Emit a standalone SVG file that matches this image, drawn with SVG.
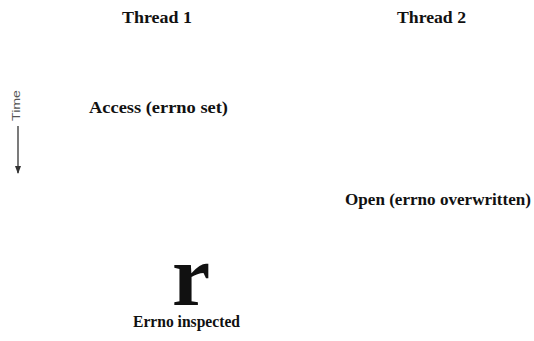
<svg xmlns="http://www.w3.org/2000/svg" width="534" height="341" viewBox="0 0 534 341">
<defs>
<style>
.t{font-family:"Liberation Serif","Times New Roman",serif;font-weight:bold;font-size:17px;fill:#111}
.s{font-family:"Liberation Sans",Arial,sans-serif;font-size:11px;fill:#555}
</style>
<marker id="ah" markerWidth="8" markerHeight="6" refX="7" refY="3" orient="auto" markerUnits="userSpaceOnUse"><path d="M0,0 L8,3 L0,6 Z" fill="#333"/></marker>
</defs>
<rect width="534" height="341" fill="#fff"/>
<g id="thread1"><text class="t" x="122" y="23" textLength="70" lengthAdjust="spacingAndGlyphs">Thread  1</text></g>
<g id="thread2"><text class="t" x="397" y="23" textLength="69" lengthAdjust="spacingAndGlyphs">Thread 2</text></g>
<g id="time"><text class="s" x="0" y="0" transform="translate(20,105.5) rotate(-90)" text-anchor="middle" textLength="31" lengthAdjust="spacingAndGlyphs">Time</text></g>
<g id="access"><text class="t" x="89" y="113" textLength="139" lengthAdjust="spacingAndGlyphs">Access (errno set)</text></g>
<g id="open"><text class="t" x="345" y="205" textLength="186" lengthAdjust="spacingAndGlyphs">Open (errno overwritten)</text></g>
<g id="errno"><text class="t" x="191" y="305" text-anchor="middle" style="font-size:86px">r</text><text class="t" x="133" y="327" textLength="107" lengthAdjust="spacingAndGlyphs">Errno inspected</text></g>
<g id="connectors"><line x1="18" y1="126" x2="18" y2="173" stroke="#333" stroke-width="1.3" marker-end="url(#ah)"/></g>
</svg>
